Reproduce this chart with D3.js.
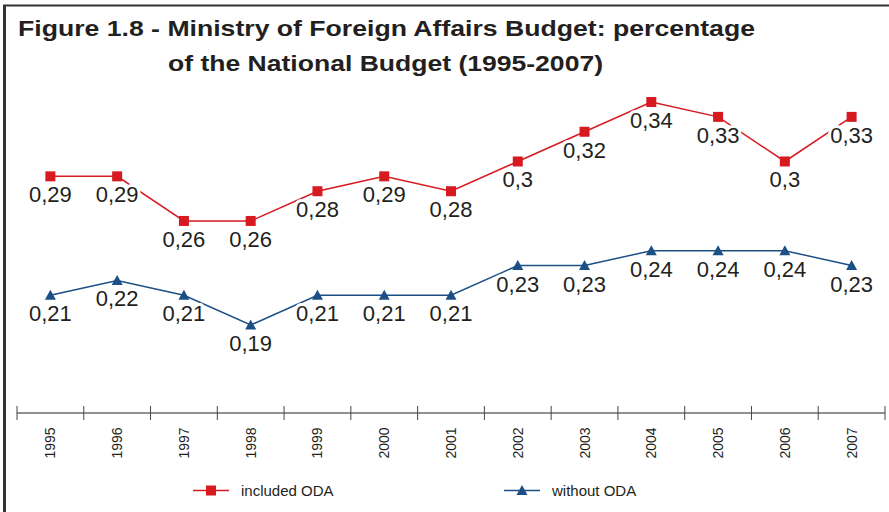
<!DOCTYPE html>
<html>
<head>
<meta charset="utf-8">
<script src="https://cdn.jsdelivr.net/npm/d3@7/dist/d3.min.js"></script>
<style>
  body { margin: 0; background: #fff; }
  svg { display: block; font-family: "Liberation Sans", Arial, sans-serif; }
</style>
</head>
<body>
<svg id="chart" width="889" height="512"></svg>
<script>
const years = ["1995","1996","1997","1998","1999","2000","2001","2002","2003","2004","2005","2006","2007"];
const includedODA = [0.29,0.29,0.26,0.26,0.28,0.29,0.28,0.30,0.32,0.34,0.33,0.30,0.33];
const withoutODA  = [0.21,0.22,0.21,0.19,0.21,0.21,0.21,0.23,0.23,0.24,0.24,0.24,0.23];
const seriesNames = ["included ODA","without ODA"];
const titleLines = ["Figure 1.8 - Ministry of Foreign Affairs Budget: percentage","of the National Budget (1995-2007)"];

const svg = d3.select("#chart");
const textColor = "#231f20";
const red = "#d71920";
const blue = "#1c4f86";

// frame
svg.append("line").attr("x1",3).attr("x2",889).attr("y1",5.5).attr("y2",5.5)
  .attr("stroke","#333").attr("stroke-width",2);
svg.append("line").attr("x1",4.5).attr("x2",4.5).attr("y1",5).attr("y2",512)
  .attr("stroke","#333").attr("stroke-width",3);

// title (horizontally expanded as in the reference)
svg.append("text").attr("x",18).attr("y",36).text(titleLines[0])
  .attr("font-size",22).attr("font-weight","bold").attr("fill",textColor)
  .attr("textLength",737).attr("lengthAdjust","spacingAndGlyphs");
svg.append("text").attr("x",168).attr("y",71).text(titleLines[1])
  .attr("font-size",22).attr("font-weight","bold").attr("fill",textColor)
  .attr("textLength",435).attr("lengthAdjust","spacingAndGlyphs");

const x = d3.scaleBand().domain(years).range([17,885]).paddingInner(0).paddingOuter(0);
const y = d3.scaleLinear().domain([0.15,0.40]).range([384.5,12.8]);
const cx = d => x(d) + x.bandwidth()/2;

// axis
const axisY = 413;
svg.append("line").attr("x1",17).attr("x2",885).attr("y1",axisY).attr("y2",axisY)
  .attr("stroke","#222").attr("stroke-width",1.2);
const tickPos = years.map(d => x(d)).concat([x(years[years.length-1]) + x.bandwidth()]);
svg.selectAll(".tick").data(tickPos).enter().append("line")
  .attr("x1",d=>d).attr("x2",d=>d).attr("y1",axisY-7).attr("y2",axisY+7)
  .attr("stroke","#444").attr("stroke-width",1);
svg.selectAll(".yl").data(years).enter().append("text")
  .attr("transform", d => `translate(${cx(d)+5},${443}) rotate(-90)`)
  .attr("text-anchor","middle").attr("font-size",14).attr("fill",textColor)
  .text(d=>d);

const line = d3.line().x((d,i)=>cx(years[i])).y(d=>y(d));

function drawSeries(vals, color, marker) {
  svg.append("path").datum(vals).attr("d",line).attr("fill","none")
    .attr("stroke",color).attr("stroke-width",1.5);
  svg.selectAll(null).data(vals).enter().append("text")
    .attr("x",(d,i)=>cx(years[i])).attr("y",d=>y(d)+26)
    .attr("text-anchor","middle").attr("font-size",22).attr("fill",textColor)
    .attr("stroke","#fff").attr("stroke-width",6).attr("paint-order","stroke")
    .attr("stroke-linejoin","round")
    .text(d => String(+d.toFixed(2)).replace(".",","));
  svg.selectAll(null).data(vals).enter().append("path")
    .attr("transform",(d,i)=>`translate(${cx(years[i])},${y(d)})`)
    .attr("d", marker).attr("fill",color);
}
const square = d3.symbol().type(d3.symbolSquare).size(100)();
const tri = "M0,-5.5L5.5,4.5L-5.5,4.5Z";

drawSeries(includedODA, red, square);
drawSeries(withoutODA, blue, tri);

// legend
const legY = 490.5;
const legend = [{name:seriesNames[0], color:red, m:square, x0:193},{name:seriesNames[1], color:blue, m:tri, x0:504}];
legend.forEach(l => {
  svg.append("line").attr("x1",l.x0).attr("x2",l.x0+36).attr("y1",legY).attr("y2",legY)
    .attr("stroke",l.color).attr("stroke-width",1.5);
  svg.append("path").attr("transform",`translate(${l.x0+18},${legY})`).attr("d",l.m).attr("fill",l.color);
  svg.append("text").attr("x",l.x0+48).attr("y",legY+5).attr("font-size",15)
    .attr("fill",textColor).text(l.name);
});
</script>
</body>
</html>
